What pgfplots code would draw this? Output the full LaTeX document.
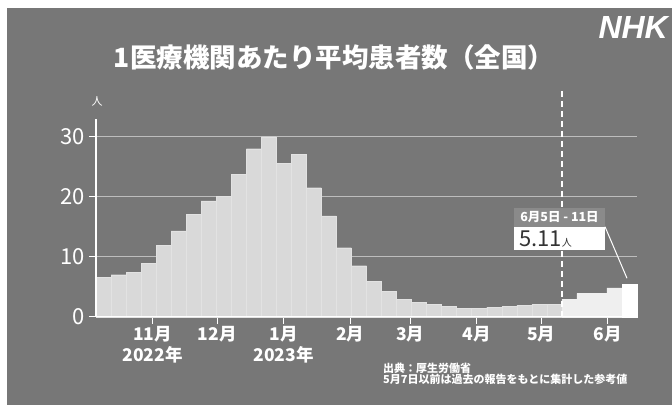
\documentclass[border=0pt]{standalone}
\usepackage{fontspec}
\setmainfont{Noto Sans CJK JP}
\newfontfamily\logofont{Liberation Sans}
\usepackage{pgfplots}
\pgfplotsset{compat=1.18}

\definecolor{panel}{HTML}{777777}
\definecolor{barA}{HTML}{D9D9D9}
\definecolor{barAline}{HTML}{E2E2E2}
\definecolor{barB}{HTML}{EFEFEF}
\definecolor{gridc}{HTML}{BDBDBD}
\definecolor{callhead}{HTML}{8A8A8A}
\definecolor{calltext}{HTML}{333333}

\begin{document}
\begin{tikzpicture}[x=1pt,y=1pt]
\useasboundingbox (0,0) rectangle (672,405);
\fill[white] (0,0) rectangle (672,405);
\fill[panel] (7,0) rectangle (672,397);

% title and logo
\node[white, font=\bfseries\fontsize{26.5}{26.5}\selectfont] at (334,348) {1医療機関あたり平均患者数（全国）};
\node[white, anchor=west, font=\logofont\bfseries\itshape\fontsize{32}{32}\selectfont] at (595,378) {NHK};

\begin{axis}[
    at={(96pt,88.3pt)}, anchor=origin,
    scale only axis, width=541pt, height=198pt,
    xmin=0, xmax=36, ymin=0, ymax=33,
    clip=false,
    axis lines=left,
    axis line style={-, draw=white, line width=1.2pt},
    tick align=outside, major tick length=7pt,
    tick style={draw=white, line width=1pt},
    ytick={0,10,20,30},
    ymajorgrids, grid style={draw=gridc, line width=1pt},
    /pgf/number format/assume math mode=true,
    yticklabel style={white, font=\fontsize{22}{22}\selectfont, xshift=-1pt},
    xtick={3.77,8.06,12.49,16.91,20.91,25.34,29.63,34.06},
    xticklabels={{11月\\2022年},{12月},{1月\\2023年},{2月},{3月},{4月},{5月},{6月}},
    xticklabel style={white, align=center, font=\bfseries\fontsize{17.5}{21}\selectfont, yshift=1pt},
]
% weekly values, reference period (before May 8)
\addplot[ybar interval, fill=barA, draw=barAline, line width=0.4pt] coordinates {
    (0,6.6) (1,7.0) (2,7.35) (3,8.9) (4,11.9) (5,14.3) (6,17.1) (7,19.3)
    (8,20.1) (9,23.7) (10,28.0) (11,30.0) (12,25.6) (13,27.1) (14,21.5)
    (15,16.8) (16,11.5) (17,8.5) (18,5.9) (19,4.2) (20,2.9) (21,2.35)
    (22,2.05) (23,1.7) (24,1.45) (25,1.4) (26,1.55) (27,1.7) (28,1.95)
    (29,2.05) (30,2.05) (31,0)
};
% after May 8
\addplot[ybar interval, fill=barB, draw=barB, line width=0.4pt] coordinates {
    (31,2.9) (32,3.9) (33,3.9) (34,4.8) (35,0)
};
% latest week
\addplot[ybar interval, fill=white, draw=white, line width=0.4pt] coordinates {
    (35,5.5) (36,0)
};
\draw[white, line width=1.2pt] (axis cs:0,0) -- (axis cs:0,33);
\draw[white, line width=1.2pt] (axis cs:0,0) -- (axis cs:36,0);
\draw[white, line width=1.5pt, dash pattern=on 6pt off 4pt] (axis cs:31,0) -- (axis cs:31,38.1);
\end{axis}

% unit
\node[white, font=\fontsize{11}{11}\selectfont] at (97,304) {人};

% callout
\fill[callhead] (514,197.3) rectangle (605,178.3);
\node[white, font=\bfseries\fontsize{12.5}{12.5}\selectfont] at (559.5,187.8) {6月5日 - 11日};
\fill[white] (514,178.3) rectangle (605,155);
\node[anchor=base west, text=calltext, inner sep=0pt] at (519,159) {\fontsize{22}{22}\selectfont 5.11\fontsize{10}{10}\selectfont 人};
\draw[white, line width=1pt] (605,178.3) -- (627,126.7);

% notes
\node[white, anchor=west, inner sep=0pt, font=\bfseries\fontsize{11}{11}\selectfont] at (383,37) {出典：厚生労働省};
\node[white, anchor=west, inner sep=0pt, font=\bfseries\fontsize{11}{11}\selectfont] at (383,26) {5月7日以前は過去の報告をもとに集計した参考値};
\end{tikzpicture}
\end{document}
